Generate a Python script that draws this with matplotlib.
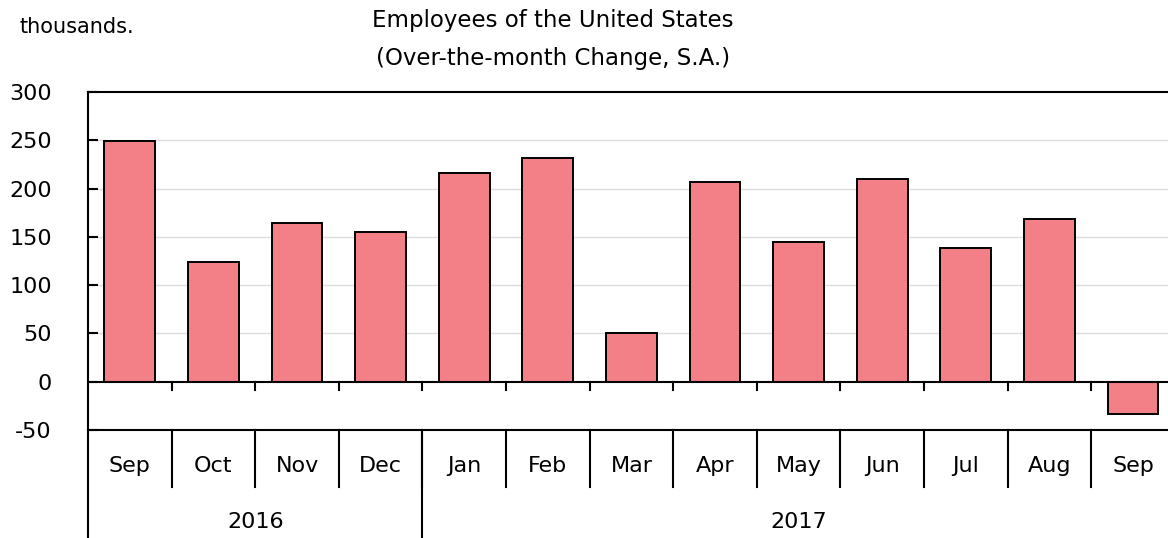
import matplotlib
matplotlib.use("Agg")
import matplotlib.pyplot as plt
import matplotlib.transforms as mtransforms
import numpy as np

months = ["Sep", "Oct", "Nov", "Dec", "Jan", "Feb", "Mar",
          "Apr", "May", "Jun", "Jul", "Aug", "Sep"]
years = ["2016", "2017"]
year_spans = [(0, 4), (4, 13)]  # [start, end) month index for each year
changes = [249, 124, 164, 155, 216, 232, 50, 207, 145, 210, 138, 169, -33]
yticks = [-50, 0, 50, 100, 150, 200, 250, 300]

plt.rcParams["font.family"] = ["DejaVu Sans"]
FS = 16

W, H = 1168, 538
fig = plt.figure(figsize=(W / 100, H / 100), dpi=100)
# plot area in pixels: left 88, top 92, bottom (-50 line) 430, category width 83.6
left_px, top_px, bot_px, cat_px = 88, 92, 430, 83.6
ax = fig.add_axes([left_px / W, (H - bot_px) / H,
                   13 * cat_px / W, (bot_px - top_px) / H])

x = np.arange(len(months))
ax.bar(x, changes, width=0.61, color="#F48087", edgecolor="black",
       linewidth=1.4, zorder=3)

ax.set_xlim(-0.5, len(months) - 0.5)
ax.set_ylim(-50, 300)
ax.set_yticks(yticks)
ax.set_yticklabels([str(v) for v in yticks], fontsize=FS)
ax.tick_params(axis="y", direction="in", length=7, width=1.5, pad=26)
ax.set_xticks([])
for y in yticks[2:-1]:
    ax.axhline(y, color="#dcdcdc", linewidth=1, zorder=1)
ax.axhline(0, color="black", linewidth=1.5, zorder=4)

for s in ax.spines.values():
    s.set_linewidth(1.5)

# downward ticks on the zero line
for b in x[1:] - 0.5:
    ax.plot([b, b], [0, -9], color="black", linewidth=1.5, zorder=4)

trans = mtransforms.blended_transform_factory(ax.transData, ax.transAxes)
hpx = bot_px - top_px
month_bottom = (bot_px - 487) / hpx
year_bottom = (bot_px - 545) / hpx

for b in x[1:] - 0.5:
    ax.plot([b, b], [0, month_bottom], color="black", linewidth=1.5,
            transform=trans, clip_on=False)
ax.plot([-0.5, -0.5], [0, year_bottom], color="black", linewidth=1.5,
        transform=trans, clip_on=False)
for start, end in year_spans[1:]:
    ax.plot([start - 0.5, start - 0.5], [0, year_bottom], color="black",
            linewidth=1.5, transform=trans, clip_on=False)

for i, m in enumerate(months):
    ax.text(i, (bot_px - 466) / hpx, m, transform=trans, ha="center",
            va="center", fontsize=FS)
for yr, (start, end) in zip(years, year_spans):
    ax.text((start + end - 1) / 2, (bot_px - 522) / hpx, yr, transform=trans,
            ha="center", va="center", fontsize=FS)

fig.text(553 / W, 1 - 20 / H, "Employees of the United States",
         ha="center", va="center", fontsize=16.5)
fig.text(553 / W, 1 - 58 / H, "(Over-the-month Change, S.A.)",
         ha="center", va="center", fontsize=16.5)
fig.text(20 / W, 1 - 27 / H, "thousands.", ha="left", va="center",
         fontsize=15)

fig.savefig("out.png", dpi=100)
